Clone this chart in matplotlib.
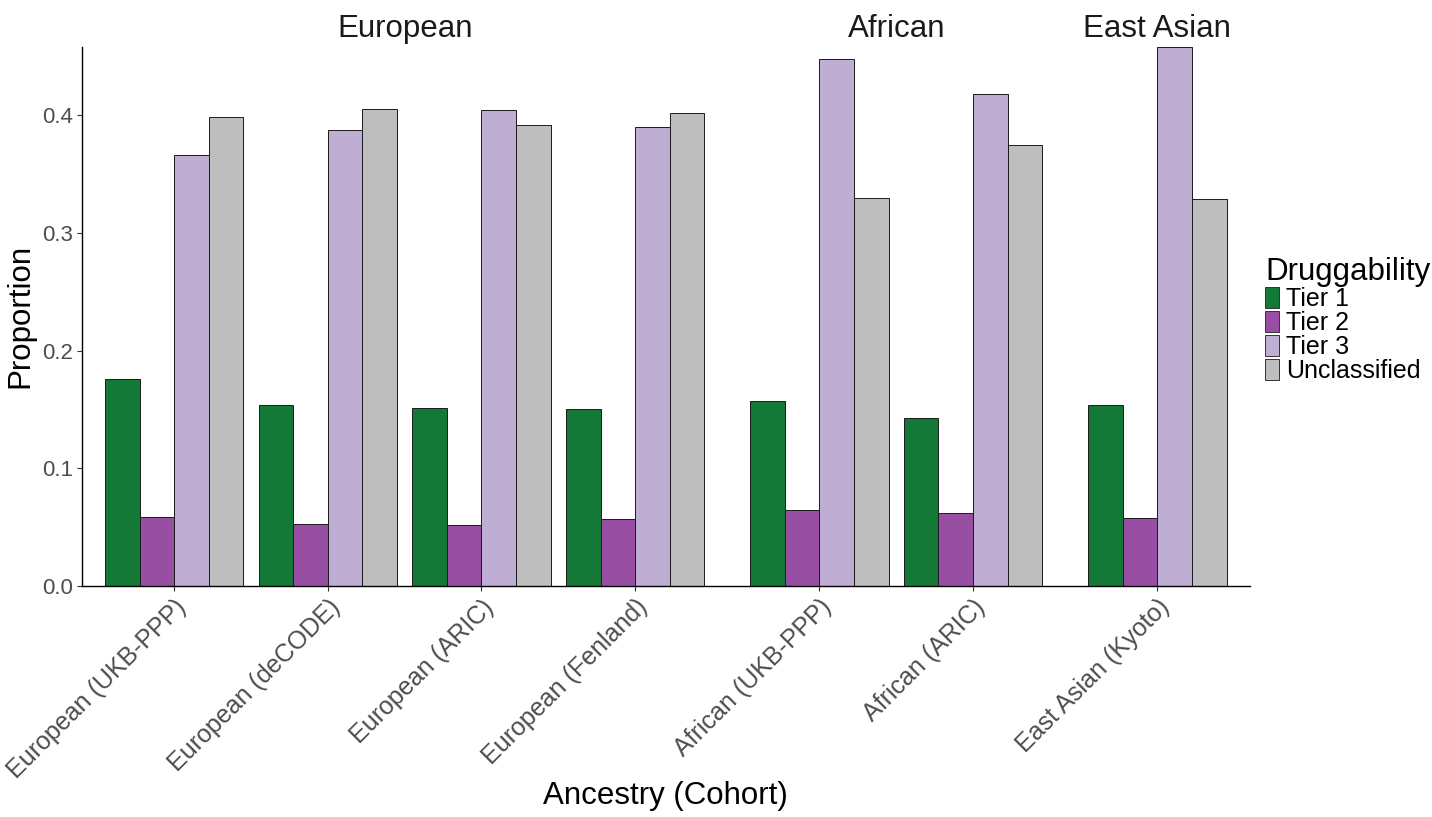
import numpy as np
import matplotlib
matplotlib.use("Agg")
import matplotlib.pyplot as plt
from matplotlib.patches import Patch
from matplotlib.transforms import blended_transform_factory

plt.rcParams["font.family"] = ["Liberation Sans", "DejaVu Sans"]

# Proportion of genes in each druggability tier, per ancestry/cohort
cohorts = ["European (UKB-PPP)", "European (deCODE)", "European (ARIC)", "European (Fenland)",
           "African (UKB-PPP)", "African (ARIC)", "East Asian (Kyoto)"]
ancestry = ["European", "European", "European", "European", "African", "African", "East Asian"]
panels = ["European", "African", "East Asian"]

tier1 = [0.176, 0.154, 0.151, 0.150, 0.157, 0.143, 0.154]
tier2 = [0.059, 0.053, 0.052, 0.057, 0.0645, 0.062, 0.058]
tier3 = [0.366, 0.387, 0.404, 0.390, 0.448, 0.418, 0.458]
unclassified = [0.398, 0.405, 0.392, 0.402, 0.330, 0.375, 0.329]

tiers = ["Tier 1", "Tier 2", "Tier 3", "Unclassified"]
colors = ["#147836", "#984EA3", "#BEAED4", "#BEBEBE"]
values = [tier1, tier2, tier3, unclassified]

# Lay out the facets side by side with free widths (0.6 padding each side, as ggplot)
centers = []
panel_spans = []
x0 = 0.0
for p in panels:
    n = ancestry.count(p)
    centers.extend(x0 + 0.6 + np.arange(n))
    panel_spans.append((x0, x0 + (n - 1) + 1.2))
    x0 += (n - 1) + 1.2
centers = np.array(centers)

fig = plt.figure(figsize=(14.32, 8.17), dpi=100)
ax = fig.add_axes([0.0573, 0.2827, 0.8153, 0.660])

bw = 0.9 / len(tiers)
for i, (tier, col, vals) in enumerate(zip(tiers, colors, values)):
    ax.bar(centers - 0.45 + bw * (i + 0.5), vals, width=bw, color=col,
           edgecolor="#1a1a1a", linewidth=0.7, label=tier)

ax.set_xlim(0, x0)
ax.set_ylim(0, max(max(v) for v in values))
ax.set_yticks([0.0, 0.1, 0.2, 0.3, 0.4])
ax.set_yticklabels(["0.0", "0.1", "0.2", "0.3", "0.4"])
ax.set_xticks(centers)
ax.set_xticklabels(cohorts, rotation=45, ha="right", va="top", rotation_mode="anchor")

ax.tick_params(axis="both", length=3.5, width=0.8, color="#333333",
               labelcolor="#4D4D4D", pad=3)
ax.tick_params(axis="y", labelsize=16)
ax.tick_params(axis="x", labelsize=18)
for s in ["top", "right"]:
    ax.spines[s].set_visible(False)
for s in ["left", "bottom"]:
    ax.spines[s].set_linewidth(1.0)
    ax.spines[s].set_color("black")

ax.set_ylabel("Proportion", fontsize=22.5, labelpad=5)
fig.text(0.4647, 1 - 796 / 817, "Ancestry (Cohort)", fontsize=22.5,
         ha="center", va="center")

# Facet strip labels
trans = blended_transform_factory(ax.transData, fig.transFigure)
for name, (a, b) in zip(panels, panel_spans):
    ax.text((a + b) / 2, 0.965, name, transform=trans, ha="center", va="center",
            fontsize=22.5, color="#1a1a1a")

handles = [Patch(facecolor=c, edgecolor="#333333", linewidth=0.7, label=t)
           for t, c in zip(tiers, colors)]
leg = fig.legend(handles=handles, title="Druggability", loc="upper left",
                 bbox_to_anchor=(0.8834, 0.685), frameon=False, fontsize=18,
                 title_fontsize=22.5, handlelength=0.56, handleheight=0.9,
                 handletextpad=0.28, labelspacing=0.0, borderpad=0,
                 borderaxespad=0, alignment="left")

fig.savefig("out.png", dpi=100)
